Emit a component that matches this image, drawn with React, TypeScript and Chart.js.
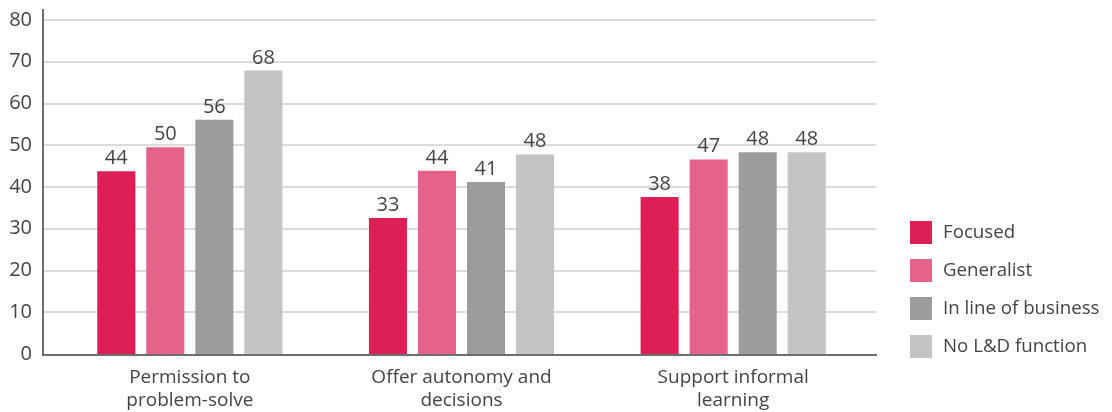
import React, { useEffect, useRef } from "react";
import { Chart, registerables } from "chart.js";

Chart.register(...registerables);

const categories: string[][] = [
  ["Permission to", "problem-solve"],
  ["Offer autonomy and", "decisions"],
  ["Support informal", "learning"],
];
const seriesNames = ["Focused", "Generalist", "In line of business", "No L&D function"];
const seriesColors = ["#DC1F55", "#E56288", "#9C9C9E", "#C4C4C4"];
const focused = [43.8, 32.6, 37.6];
const generalist = [49.5, 43.9, 46.6];
const lineOfBusiness = [56.1, 41.2, 48.3];
const noLD = [67.9, 47.8, 48.3];
const yMin = 0;
const yMax = 80;
const yStep = 10;

const FONT = "'Open Sans', 'DejaVu Sans', sans-serif";
const TEXT = "#444444";

const decorPlugin = {
  id: "decor",
  beforeDatasetsDraw(chart: any) {
    const { ctx, chartArea } = chart;
    const y = chart.scales.y;
    ctx.save();
    ctx.strokeStyle = "#DCDCDC";
    ctx.lineWidth = 2;
    y.ticks.forEach((t: any) => {
      if (t.value === 0) return;
      const py = Math.round(y.getPixelForValue(t.value));
      ctx.beginPath();
      ctx.moveTo(chartArea.left - 11, py);
      ctx.lineTo(chartArea.right + 7, py);
      ctx.stroke();
    });
    ctx.restore();
  },
  afterDatasetsDraw(chart: any) {
    const { ctx, chartArea } = chart;
    ctx.save();
    ctx.strokeStyle = "#6E6E6E";
    ctx.lineWidth = 2;
    const ax = chartArea.left - 11;
    const by = chartArea.bottom;
    ctx.beginPath();
    ctx.moveTo(ax, chartArea.top - 11);
    ctx.lineTo(ax, by + 1);
    ctx.lineTo(chartArea.right + 8, by + 1);
    ctx.stroke();
    ctx.fillStyle = TEXT;
    ctx.font = `20px ${FONT}`;
    ctx.textAlign = "center";
    ctx.textBaseline = "alphabetic";
    chart.data.datasets.forEach((ds: any, di: number) => {
      const meta = chart.getDatasetMeta(di);
      meta.data.forEach((bar: any, i: number) => {
        ctx.fillText(String(Math.round(ds.data[i])), bar.x, bar.y - 7);
      });
    });
    ctx.restore();
  },
  afterDraw(chart: any) {
    const { ctx, chartArea } = chart;
    ctx.save();
    const x0 = chartArea.right + 41;
    const y0 = 221;
    ctx.font = `18.7px ${FONT}`;
    ctx.textBaseline = "middle";
    ctx.textAlign = "left";
    chart.data.datasets.forEach((ds: any, i: number) => {
      const y = y0 + i * 38;
      ctx.fillStyle = ds.backgroundColor;
      ctx.fillRect(x0, y, 22, 23);
      ctx.fillStyle = TEXT;
      ctx.fillText(ds.label, x0 + 33, y + 12);
    });
    ctx.restore();
  },
};

export default function App() {
  const ref = useRef<HTMLCanvasElement | null>(null);
  useEffect(() => {
    document.body.style.margin = "0";
    const canvas = ref.current!;
    const seriesData = [focused, generalist, lineOfBusiness, noLD];
    const chart = new Chart(canvas, {
      type: "bar",
      data: {
        labels: categories,
        datasets: seriesNames.map((name, i) => ({
          label: name,
          data: seriesData[i],
          backgroundColor: seriesColors[i],
          borderWidth: 0,
          categoryPercentage: 0.722,
          barPercentage: 0.776,
        })),
      },
      options: {
        animation: false,
        responsive: false,
        maintainAspectRatio: false,
        layout: { padding: { top: 20, right: 243, left: 0, bottom: 0 } },
        plugins: { legend: { display: false }, tooltip: { enabled: false } },
        scales: {
          x: {
            grid: { display: false, drawTicks: false, tickLength: 0 },
            border: { display: false },
            ticks: {
              color: TEXT,
              font: { family: FONT, size: 19, lineHeight: 1.2 },
              padding: 12,
              maxRotation: 0,
              autoSkip: false,
            },
            afterFit: (s: any) => {
              s.height = 58;
              s.paddingLeft = 0;
              s.paddingRight = 0;
            },
          },
          y: {
            min: yMin,
            max: yMax,
            grid: { display: false, drawTicks: false, tickLength: 0 },
            border: { display: false },
            ticks: {
              stepSize: yStep,
              color: TEXT,
              font: { family: FONT, size: 20 },
              padding: 22,
            },
            afterFit: (s: any) => {
              s.width = 54;
              s.paddingTop = 0;
              s.paddingBottom = 0;
            },
          },
        },
      },
      plugins: [decorPlugin],
    });
    return () => chart.destroy();
  }, []);
  return <canvas ref={ref} width={1112} height={412} style={{ display: "block" }} />;
}
